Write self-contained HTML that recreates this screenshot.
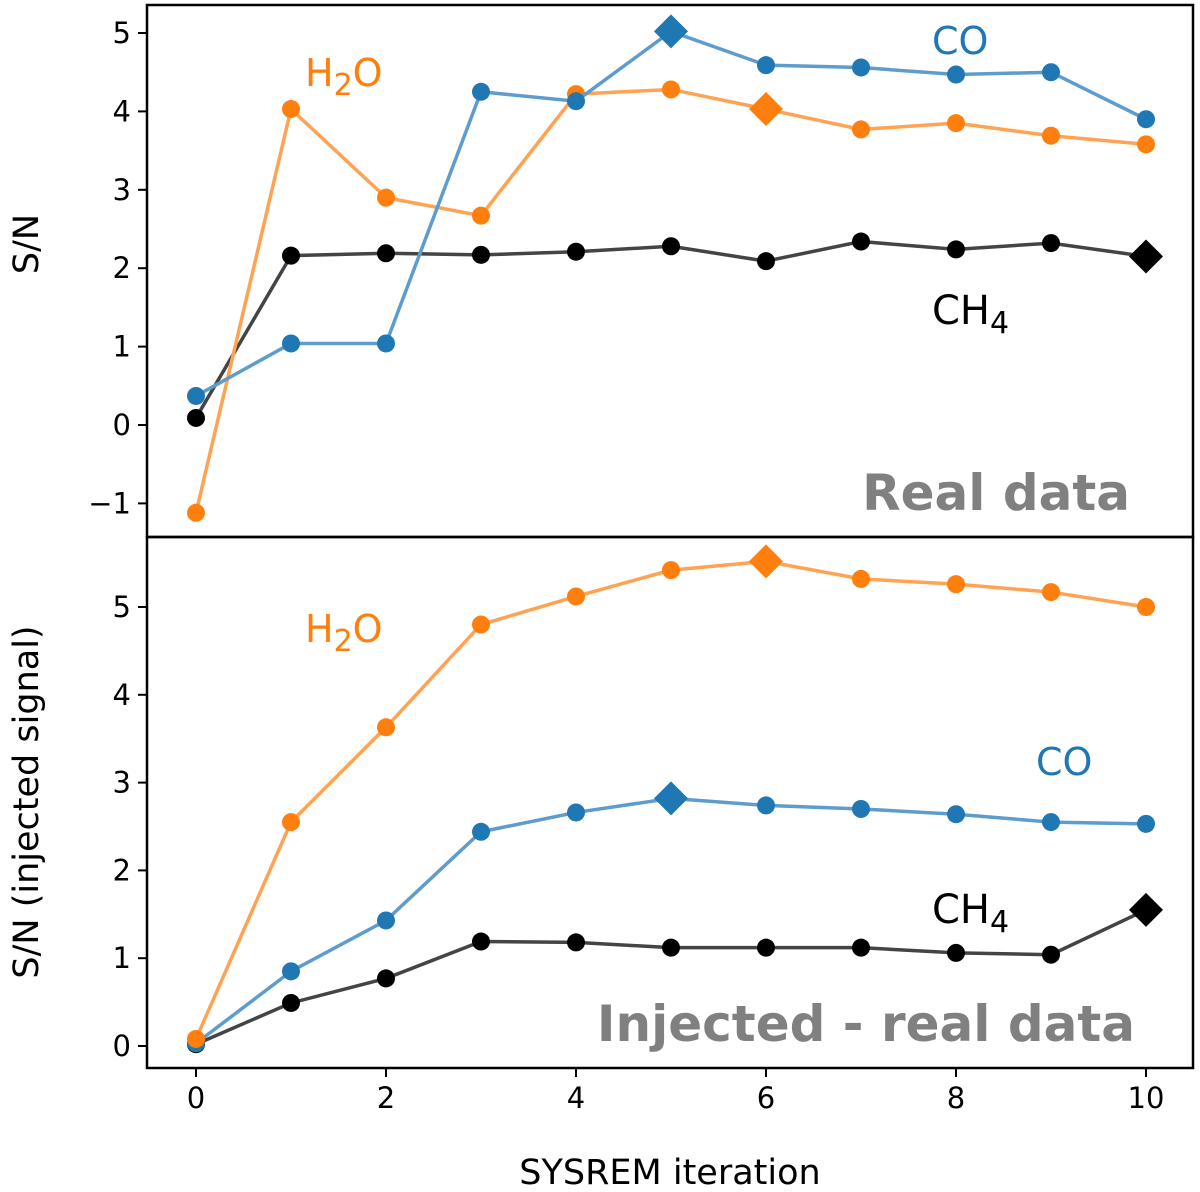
<!DOCTYPE html>
<html><head><meta charset="utf-8"><style>
body{margin:0;background:#fff}
svg{display:block;font-family:"DejaVu Sans","Liberation Sans",sans-serif}
</style></head><body>
<svg id="c" width="1200" height="1192"></svg>
<script>
const iterations=[0,1,2,3,4,5,6,7,8,9,10];
const topCO=[0.37,1.04,1.04,4.25,4.13,5.02,4.59,4.56,4.47,4.5,3.9];
const topH2O=[-1.12,4.03,2.9,2.67,4.22,4.28,4.03,3.77,3.85,3.69,3.58];
const topCH4=[0.09,2.16,2.19,2.17,2.21,2.28,2.09,2.34,2.24,2.32,2.15];
const botH2O=[0.08,2.55,3.63,4.8,5.12,5.42,5.52,5.32,5.26,5.17,5.0];
const botCO=[0.03,0.85,1.43,2.44,2.66,2.82,2.74,2.70,2.64,2.55,2.53];
const botCH4=[0.02,0.49,0.77,1.19,1.18,1.12,1.12,1.12,1.06,1.04,1.55];
const xTicks=[0,2,4,6,8,10];
const topYTicks=[-1,0,1,2,3,4,5];
const botYTicks=[0,1,2,3,4,5];
const NS='http://www.w3.org/2000/svg';
const svg=document.getElementById('c');
function el(t,a,p){const e=document.createElementNS(NS,t);for(const k in a)e.setAttribute(k,a[k]);(p||svg).appendChild(e);return e;}
const X=v=>196+v*95;
const Ytop=v=>425-v*78.4;
const Ybot=v=>1046-v*87.8;
const L=147,R=1193;
function series(vals,Y,line,fill,best,name){
  const g=el('g',{});
  
  
  el('polyline',{points:vals.map((v,i)=>X(iterations[i])+','+Y(v)).join(' '),fill:'none',stroke:line,'stroke-width':3.5},g);
  vals.forEach((v,i)=>{
    const x=X(iterations[i]),y=Y(v);
    let m;
    if(i===best){m=el('polygon',{points:`${x},${y-17} ${x+17},${y} ${x},${y+17} ${x-17},${y}`,fill:fill},g);}
    else m=el('circle',{cx:x,cy:y,r:9,fill:fill},g);
    
    
  });
}
function txt(x,y,s,attrs,name){const t=el('text',Object.assign({x:x,y:y},attrs));t.innerHTML=s;return t;}
const f1=el('rect',{x:L,y:5,width:R-L,height:532,fill:'none',stroke:'#000','stroke-width':2.5});

const f2=el('rect',{x:L,y:537,width:R-L,height:531,fill:'none',stroke:'#000','stroke-width':2.5});

topYTicks.forEach(v=>{const y=Ytop(v);el('line',{x1:L-9,x2:L,y1:y,y2:y,stroke:'#000','stroke-width':2});txt(L-16,y+10,v<0?'\u2212'+(-v):v,{'text-anchor':'end','font-size':29},'top-y-tick');});
botYTicks.forEach(v=>{const y=Ybot(v);el('line',{x1:L-9,x2:L,y1:y,y2:y,stroke:'#000','stroke-width':2});txt(L-16,y+10,v,{'text-anchor':'end','font-size':29},'bottom-y-tick');});
xTicks.forEach(v=>{const x=X(v);el('line',{x1:x,x2:x,y1:1068,y2:1077,stroke:'#000','stroke-width':2});txt(x,1108,v,{'text-anchor':'middle','font-size':29},'x-tick');});
txt(670,1184,'SYSREM iteration',{'text-anchor':'middle','font-size':35},'x-axis-title');
txt(0,0,'S/N',{'text-anchor':'middle','font-size':35,transform:'translate(38,244) rotate(-90)'},'top-y-axis-title');
txt(0,0,'S/N (injected signal)',{'text-anchor':'middle','font-size':35,transform:'translate(38,802) rotate(-90)'},'bottom-y-axis-title');
series(topCH4,Ytop,'#444','#000',10,'top-ch4');
series(topH2O,Ytop,'#ffa352','#ff7f0e',6,'top-h2o');
series(topCO,Ytop,'#5d9ccd','#1f77b4',5,'top-co');
series(botCH4,Ybot,'#444','#000',10,'bottom-ch4');
series(botCO,Ybot,'#5d9ccd','#1f77b4',5,'bottom-co');
series(botH2O,Ybot,'#ffa352','#ff7f0e',6,'bottom-h2o');
txt(932,54,'CO',{'font-size':38,fill:'#1f77b4'},'top-co-label');
txt(305,86,'H<tspan font-size="30" dy="9">2</tspan><tspan dy="-9">O</tspan>',{'font-size':38,fill:'#ff7f0e'},'top-h2o-label');
txt(932,324,'CH<tspan font-size="30" dy="9">4</tspan>',{'font-size':40,fill:'#000'},'top-ch4-label');
txt(1130,510,'Real data',{'text-anchor':'end','font-size':50,'font-weight':'bold',fill:'#808080'},'top-panel-title');
txt(305,642,'H<tspan font-size="30" dy="9">2</tspan><tspan dy="-9">O</tspan>',{'font-size':38,fill:'#ff7f0e'},'bottom-h2o-label');
txt(1036,775,'CO',{'font-size':38,fill:'#1f77b4'},'bottom-co-label');
txt(932,923,'CH<tspan font-size="30" dy="9">4</tspan>',{'font-size':40,fill:'#000'},'bottom-ch4-label');
txt(1135,1041,'Injected - real data',{'text-anchor':'end','font-size':50,'font-weight':'bold',fill:'#808080'},'bottom-panel-title');
</script>
</body></html>
